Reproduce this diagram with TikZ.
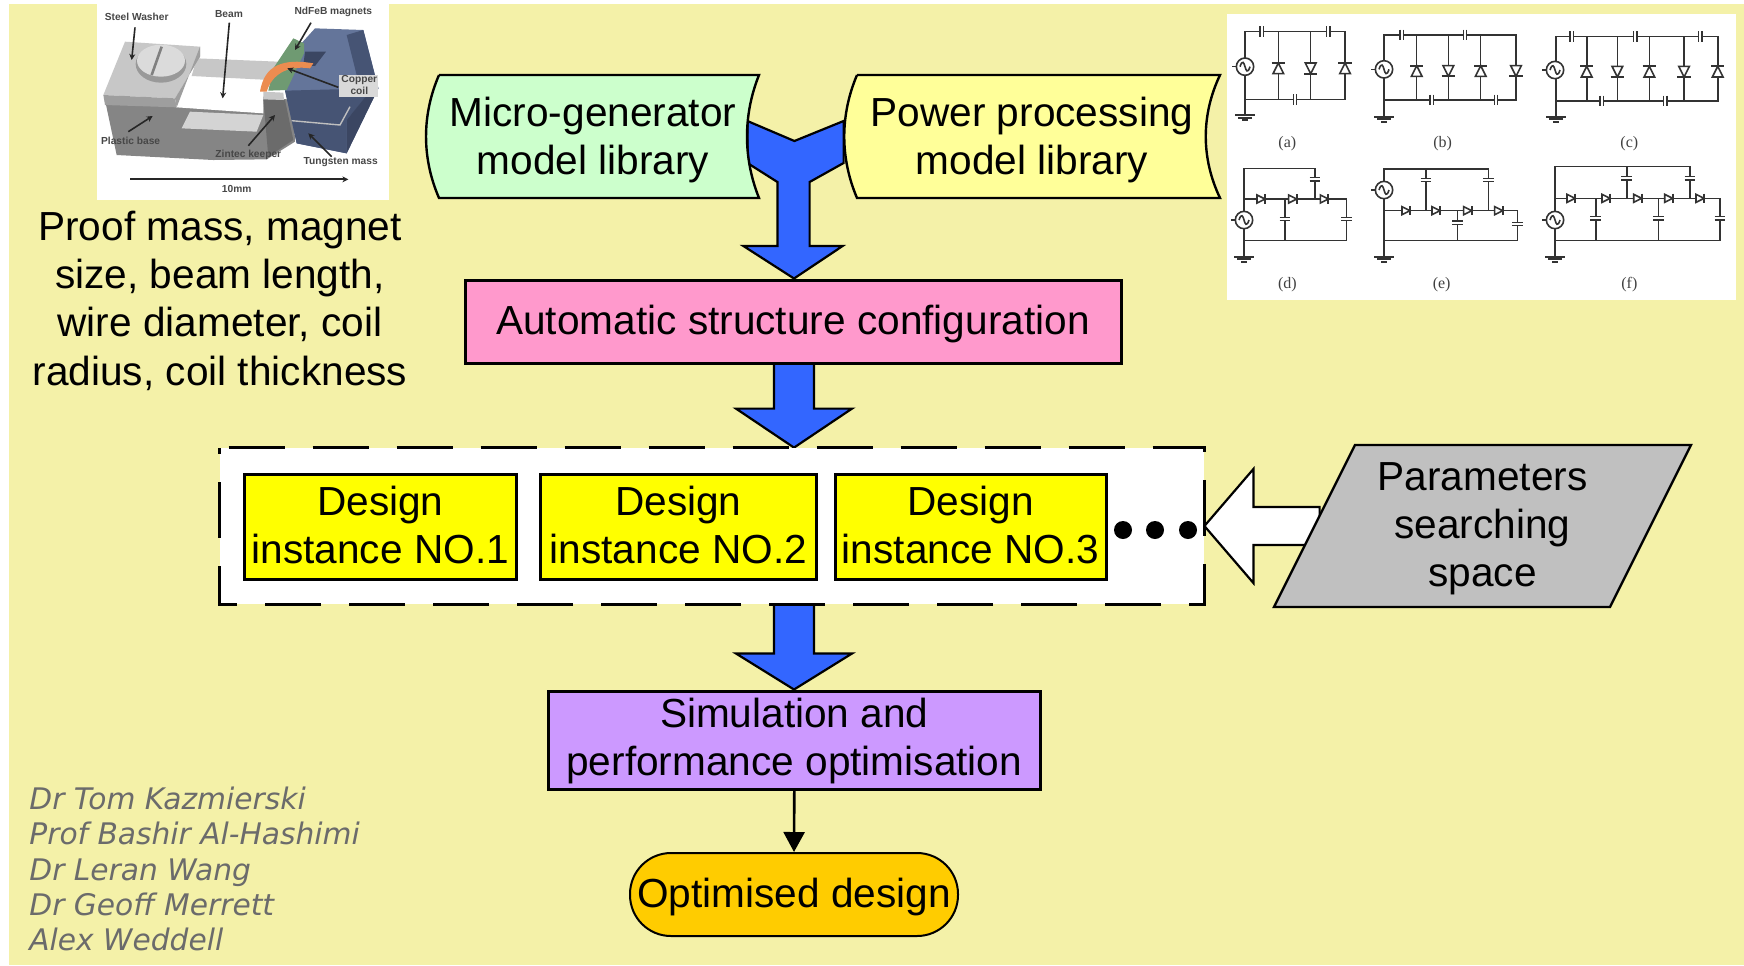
\documentclass[tikz,border=0pt]{standalone}
\usepackage{fontspec}
\setmainfont{Liberation Sans}
\newfontfamily\authfont{DejaVu Sans}
\newfontfamily\cirfont{Liberation Serif}
\usetikzlibrary{calc,backgrounds,arrows.meta}
\definecolor{pagebg}{HTML}{F4F1A8}
\definecolor{fatblue}{HTML}{3366FF}
\definecolor{pinkbox}{HTML}{FF99CC}
\definecolor{purplebox}{HTML}{CC99FF}
\definecolor{orangebox}{HTML}{FFCC00}
\definecolor{greenlib}{HTML}{CCFFCC}
\definecolor{yellowlib}{HTML}{FFFF99}
\definecolor{designbox}{HTML}{FFFF00}
\definecolor{graybox}{HTML}{C0C0C0}
\definecolor{slate}{HTML}{64759A}
\definecolor{slatedark}{HTML}{465474}
\definecolor{slatedeep}{HTML}{3B4662}
\definecolor{copper}{HTML}{EC8C50}
\definecolor{coilgreen}{HTML}{6F9A72}
\tikzset{
  bigtext/.style={font=\fontsize{20.3}{24.2}\selectfont,align=center,inner sep=0pt,text=black},
  box/.style={inner sep=0pt,draw=black,line width=1.5pt},
  lib/.style={inner sep=0pt},
  fat/.style={draw=black,fill=fatblue,line width=1.1pt,line join=miter},
  cw/.style={draw=black!80,line width=.8pt},
  plabel/.style={font=\fontsize{5.1}{5.8}\selectfont\bfseries,text=black!72,inner sep=0pt},
  parrow/.style={draw=black!85,line width=.8pt,-{Stealth[length=3pt,width=3pt]}},
  clabel/.style={font=\cirfont\fontsize{8}{9}\selectfont,text=black!75,inner sep=0pt},
}
\newcommand\dU[2]{\draw[cw,fill=white] (#1-16,#2+16) -- (#1+16,#2+16) -- (#1,#2-16) -- cycle; \draw[cw,line width=1pt] (#1-20,#2-16) -- (#1+20,#2-16);}
\newcommand\dD[2]{\draw[cw,fill=white] (#1-16,#2-16) -- (#1+16,#2-16) -- (#1,#2+16) -- cycle; \draw[cw,line width=1pt] (#1-20,#2+16) -- (#1+20,#2+16);}
\newcommand\dR[2]{\draw[cw,fill=white] (#1-14,#2-12) -- (#1-14,#2+12) -- (#1+10,#2) -- cycle; \draw[cw,line width=1pt] (#1+10,#2-14) -- (#1+10,#2+14);}
\newcommand\cH[2]{\fill[white] (#1-5,#2-6) rectangle (#1+5,#2+6); \draw[cw] (#1-5,#2-16) -- (#1-5,#2+16) (#1+5,#2-16) -- (#1+5,#2+16);}
\newcommand\cV[2]{\fill[white] (#1-6,#2-5) rectangle (#1+6,#2+5); \draw[cw] (#1-16,#2-5) -- (#1+16,#2-5) (#1-16,#2+5) -- (#1+16,#2+5);}
\newcommand\src[2]{\draw[cw] (#1-38,#2) -- (#1-26,#2); \draw[cw,fill=white] (#1,#2) circle[radius=26]; \draw[cw] (#1-15,#2) .. controls (#1-8,#2-22) and (#1-3,#2-12) .. (#1,#2) .. controls (#1+3,#2+12) and (#1+8,#2+22) .. (#1+15,#2);}
\newcommand\gnd[2]{\draw[cw,line width=1pt] (#1-30,#2) -- (#1+30,#2) (#1-20,#2+8) -- (#1+20,#2+8) (#1-9,#2+16) -- (#1+9,#2+16);}
\newcommand\fatarrow[5]{\draw[fat] ($(axis |- #1.south)+(-#3,0)$) -- ($(axis |- #2.north)+(-#3,-#5)$) -- ($(axis |- #2.north)+(-#4,-#5)$) -- (axis |- #2.north) -- ($(axis |- #2.north)+(#4,-#5)$) -- ($(axis |- #2.north)+(#3,-#5)$) -- ($(axis |- #1.south)+(#3,0)$);}
\begin{document}
\begin{tikzpicture}[x=.5pt,y=-.5pt]
\useasboundingbox (0,0) rectangle (1744,965);
\coordinate (axis) at (794,0);
% ---- text and box nodes
\node[lib,minimum width=154pt,minimum height=61pt,label={[bigtext,name=greent,yshift=-1.4pt]center:{Micro-generator\\model library}}] (green) at (593,137) {};
\node[lib,minimum width=188pt,minimum height=61pt,label={[bigtext,name=yellowt,yshift=-1.4pt]center:{Power processing\\model library}}] (yellow) at (1032,137) {};
\node[box,fill=pinkbox,minimum width=328pt,minimum height=41.5pt,label={[bigtext,name=pinkt,yshift=-1pt]center:{Automatic structure configuration}}] (pink) at (793,321.5) {};
\node[fill=white,inner sep=0pt,minimum width=492pt,minimum height=78pt] (dash) at (712,526) {};
\draw[line width=1.4pt,dash pattern=on 28pt off 14pt,dash phase=37.5pt] (dash.north west) -- (dash.north east) -- (dash.south east) -- (dash.south west) -- cycle;
\node[box,fill=designbox,minimum width=135.7pt,minimum height=52.5pt,label={[bigtext,name=d1t,yshift=.7pt]center:{Design\\instance NO.1}}] (d1) at (380.3,526.5) {};
\node[box,fill=designbox,minimum width=137.7pt,minimum height=52.5pt,label={[bigtext,name=d2t,yshift=.7pt]center:{Design\\instance NO.2}}] (d2) at (678.3,526.5) {};
\node[box,fill=designbox,minimum width=135.5pt,minimum height=52.5pt,label={[bigtext,name=d3t,yshift=.7pt]center:{Design\\instance NO.3}}] (d3) at (970.5,526.5) {};
\fill (1123,530) circle[radius=9] (1155,530) circle[radius=9] (1188,530) circle[radius=9];
\node[lib,minimum width=208.5pt,minimum height=81pt,label={[bigtext,name=paramst,yshift=-1.4pt]center:{Parameters\\searching\\space}}] (params) at (1482.5,526) {};
\node[box,fill=purplebox,minimum width=245.7pt,minimum height=49pt,label={[bigtext,name=simt,yshift=-.6pt]center:{Simulation and\\performance optimisation}}] (sim) at (794.3,740) {};
\node[draw=black,line width=1pt,fill=orangebox,rounded corners=20.5pt,inner sep=0pt,minimum width=164pt,minimum height=41.5pt,label={[bigtext,name=optt,yshift=-1pt]center:{Optimised design}}] (opt) at (794,894.5) {};
\draw[line width=1.3pt,-{Triangle[length=10pt,width=10.5pt]}] (sim.south) -- (opt.north);
\node[bigtext,anchor=center] (props) at (220,300.5) {Proof mass, magnet\\size, beam length,\\wire diameter, coil\\radius, coil thickness};
\node[anchor=west,align=left,inner sep=0pt,text=black!58,font=\authfont\itshape\fontsize{14.85}{17.6}\selectfont] (authors) at (29,869) {Dr Tom Kazmierski\\Prof Bashir Al-Hashimi\\Dr Leran Wang\\Dr Geoff Merrett\\Alex Weddell};
% ---- things under the nodes
\begin{scope}[on background layer]
\fill[white] (0,0) rectangle (1744,965);
\fill[pagebg] (9,4) rectangle (1744,965);
% Y-shaped arrow into the pink box
\draw[fat] ($(green.east)+(0,-16)$) -- ($(green.east)+(47,4)$) -- ($(yellow.west)+(0,-16)$) -- ($(yellow.west)+(0,26)$) -- ($(yellow.west)+(-34,45)$) -- ($(yellow.west)+(-34,109)$) -- ($(yellow.west)+(-1,109)$) -- (axis |- pink.north) -- ($(green.east)+(-4,109)$) -- ($(green.east)+(30,109)$) -- ($(green.east)+(30,45)$) -- ($(green.east)+(0,26)$) -- cycle;
% libraries
\draw[line width=1.2pt,fill=greenlib] (439,75) -- (759,75) .. controls (743,115) and (743,158) .. (759,198) -- (439,198) .. controls (421.7,158) and (421.7,115) .. (439,75);
\draw[line width=1.2pt,fill=yellowlib] (857,75) -- (1220,75) .. controls (1201,115) and (1201,158) .. (1220,198) -- (857,198) .. controls (840,158) and (840,115) .. (857,75);
% block arrows
\fatarrow{pink}{dash}{20}{58}{39}
\fatarrow{dash}{sim}{20}{58}{36}
% white arrow from parameters
\draw[line width=1.1pt,fill=white] (dash.east) -- ($(dash.east)+(49,-57)$) -- ($(dash.east)+(49,-19)$) -- ($(params.west)+(46,-19)$) -- ($(params.west)+(46,19)$) -- ($(dash.east)+(49,19)$) -- ($(dash.east)+(49,57)$) -- cycle;
% parameters parallelogram
\draw[line width=1.2pt,fill=graybox] (1355,445) -- (1691,445) -- (1610,607) -- (1274,607) -- cycle;
\end{scope}
% ---- photograph of the generator
\begin{scope}[shift={(40pt,0pt)},x=.16667pt,y=-.16667pt]
\fill[white] (52,12) rectangle (928,600);
\fill[black!48] (75,300) -- (110,465) -- (400,480) -- (560,478) -- (645,425) -- (640,300) -- (550,290) -- (290,322) -- cycle;
\fill[black!22] (350,175) -- (595,185) -- (570,240) -- (335,228) -- cycle;
\fill[white] (290,322) -- (340,232) -- (550,245) -- (550,340) -- cycle;
\fill[black!17] (330,335) -- (550,345) -- (530,395) -- (305,385) -- cycle;
\fill[black!22] (70,285) -- (135,125) -- (360,140) -- (360,170) -- (285,295) -- cycle;
\fill[black!38] (70,285) -- (285,295) -- (290,322) -- (75,315) -- cycle;
\fill[black!38] (285,295) -- (360,170) -- (360,140) -- (290,322) -- cycle;
\fill[black!40] (243,192) ellipse[x radius=76,y radius=56];
\fill[black!14] (243,182) ellipse[x radius=72,y radius=48];
\draw[black!50,line width=1.3pt] (215,225) -- (245,140);
\fill[black!58] (550,298) -- (615,300) -- (640,420) -- (565,470) -- cycle;
\fill[black!22] (550,275) -- (610,278) -- (612,300) -- (550,298) -- cycle;
% tungsten mass
\fill[slate] (705,85) -- (850,90) -- (895,265) -- (800,460) -- (650,430) -- (615,270) -- (655,140) -- cycle;
\fill[slatedeep] (675,155) -- (738,155) -- (705,198) -- (670,195) -- cycle;
\fill[slatedark] (850,90) -- (895,265) -- (840,265) -- (800,105) -- cycle;
\fill[slatedark] (615,272) -- (880,265) -- (800,360) -- (800,460) -- (650,430) -- cycle;
\fill[slatedeep] (880,262) -- (895,265) -- (800,460) -- (800,360) -- cycle;
\draw[black!25,line width=.7pt] (635,362) -- (780,375) -- (810,320);
% coil
\fill[coilgreen] (640,115) -- (672,130) -- (672,160) -- (620,270) -- (565,272) -- (580,205) -- cycle;
\fill[copper] (540,275) .. controls (550,215) and (585,170) .. (700,190) -- (690,205) .. controls (620,195) and (575,225) .. (560,275) -- cycle;
\fill[black!15] (778,225) rectangle (895,290);
\draw[parrow] (165,82) -- (155,180);
\draw[parrow] (448,68) -- (428,295);
\draw[parrow] (693,68) -- (645,150);
\draw[parrow] (775,262) -- (622,205);
\draw[parrow] (145,395) -- (218,348);
\draw[parrow] (505,437) -- (585,345);
\draw[parrow] (755,470) -- (685,400);
\draw[parrow,line width=1pt] (150,538) -- (805,538);
\node[plabel] (lwasher) at (170,52) {Steel Washer};
\node[plabel] (lbeam) at (447,42) {Beam};
\node[plabel] (lmagnet) at (760,35) {NdFeB magnets};
\node[plabel,align=center] (lcoil) at (838,255) {Copper\\coil};
\node[plabel] (lbase) at (152,422) {Plastic base};
\node[plabel] (lkeeper) at (505,465) {Zintec keeper};
\node[plabel] (lmass) at (782,485) {Tungsten mass};
\node[plabel] (lscale) at (470,568) {10mm};
\end{scope}
% ---- circuit panel
\begin{scope}[shift={(610pt,0pt)},x=.16667pt,y=-.16667pt]
\fill[white] (22,42) rectangle (1548,900);
% (a)
\draw[cw] (75,345) -- (75,95) -- (375,95) -- (375,298) -- (75,298) (175,95) -- (175,298) (272,95) -- (272,298) (75,298) -- (75,345);
\src{75}{200} \gnd{75}{345}
\dU{175}{205} \dD{272}{205} \dU{375}{205}
\cH{125}{95} \cH{325}{95} \cH{225}{298}
\node[clabel] (ca) at (202,432) {(a)};
% (b)
\draw[cw] (492,350) -- (492,105) -- (888,105) -- (888,300) -- (492,300) (590,105) -- (590,300) (685,105) -- (685,300) (782,105) -- (782,300);
\src{492}{208} \gnd{492}{350}
\dU{590}{213} \dD{685}{213} \dU{782}{213} \dD{888}{213}
\cH{545}{105} \cH{735}{105} \cH{635}{300} \cH{828}{300}
\node[clabel] (cb) at (668,432) {(b)};
% (c)
\draw[cw] (1008,350) -- (1008,110) -- (1493,110) -- (1493,303) -- (1008,303) (1100,110) -- (1100,303) (1192,110) -- (1192,303) (1288,110) -- (1288,303) (1392,110) -- (1392,303);
\src{1005}{210} \gnd{1008}{350}
\dU{1100}{215} \dD{1192}{215} \dU{1288}{215} \dD{1392}{215} \dU{1493}{215}
\cH{1055}{110} \cH{1245}{110} \cH{1440}{110} \cH{1145}{303} \cH{1335}{303}
\node[clabel] (cc) at (1228,432) {(c)};
% (d)
\draw[cw] (72,770) -- (72,505) -- (285,505) -- (285,597) (72,597) -- (380,597) -- (380,722) -- (72,722) (195,597) -- (195,722);
\src{72}{660} \gnd{72}{770}
\cV{285}{538} \cV{195}{657} \cV{380}{657}
\dR{125}{597} \dR{220}{597} \dR{315}{597}
\node[clabel] (cd) at (202,853) {(d)};
% (e)
\draw[cw] (492,770) -- (492,507) -- (805,507) -- (805,632) (618,507) -- (618,632) (492,632) -- (893,632) -- (893,722) -- (492,722) (712,632) -- (712,722);
\src{492}{570} \gnd{492}{770}
\cV{618}{540} \cV{805}{540} \cV{712}{668} \cV{893}{672}
\dR{560}{632} \dR{650}{632} \dR{745}{632} \dR{838}{632}
\node[clabel] (ce) at (665,853) {(e)};
% (f)
\draw[cw] (1005,770) -- (1005,500) -- (1410,500) -- (1410,595) (1220,500) -- (1220,595) (1005,595) -- (1500,595) -- (1500,722) -- (1005,722) (1127,595) -- (1127,722) (1315,595) -- (1315,722);
\src{1005}{660} \gnd{1005}{770}
\cV{1220}{535} \cV{1410}{535} \cV{1127}{655} \cV{1315}{655} \cV{1500}{655}
\dR{1055}{595} \dR{1160}{595} \dR{1255}{595} \dR{1348}{595} \dR{1442}{595}
\node[clabel] (cf) at (1228,853) {(f)};
\end{scope}
\end{tikzpicture}
\end{document}
